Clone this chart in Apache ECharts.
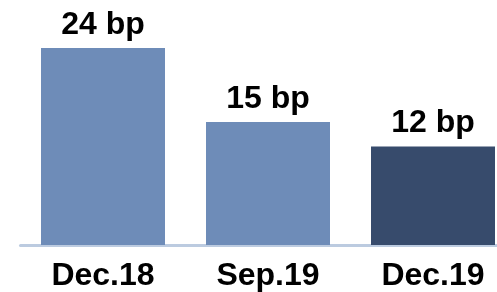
<!DOCTYPE html>
<html>
<head>
<meta charset="utf-8">
<script src="https://cdn.jsdelivr.net/npm/echarts@6/dist/echarts.min.js"></script>
<style>
  html, body { margin: 0; padding: 0; background: #fff; }
  #chart { width: 497px; height: 292px; }
</style>
</head>
<body>
<div id="chart"></div>
<script>
var categories = ['Dec.18', 'Sep.19', 'Dec.19'];
var values = [24, 15, 12];
var barColors = ['#6e8cb8', '#6e8cb8', '#374b6c'];

var chart = echarts.init(document.getElementById('chart'));

var option = {
    animation: false,
    grid: { left: 20.5, right: -18.5, top: 48, bottom: 47, outerBoundsMode: 'none' },
    xAxis: {
        type: 'category',
        data: categories,
        axisLine: { lineStyle: { color: '#bccbe0', width: 3 } },
        axisTick: { show: false },
        axisLabel: {
            color: '#000',
            fontFamily: 'Liberation Sans, Arial, sans-serif',
            fontWeight: 'bold',
            fontSize: 32,
            margin: 15
        }
    },
    yAxis: {
        type: 'value',
        min: 0,
        max: 24,
        show: false
    },
    series: [{
        type: 'bar',
        barWidth: 124,
        data: values.map(function (v, i) {
            return { value: v, itemStyle: { color: barColors[i] } };
        }),
        label: {
            show: true,
            position: 'top',
            distance: 7,
            formatter: '{c} bp',
            color: '#000',
            fontFamily: 'Liberation Sans, Arial, sans-serif',
            fontWeight: 'bold',
            fontSize: 32
        }
    }]
};

chart.setOption(option);
</script>
</body>
</html>
